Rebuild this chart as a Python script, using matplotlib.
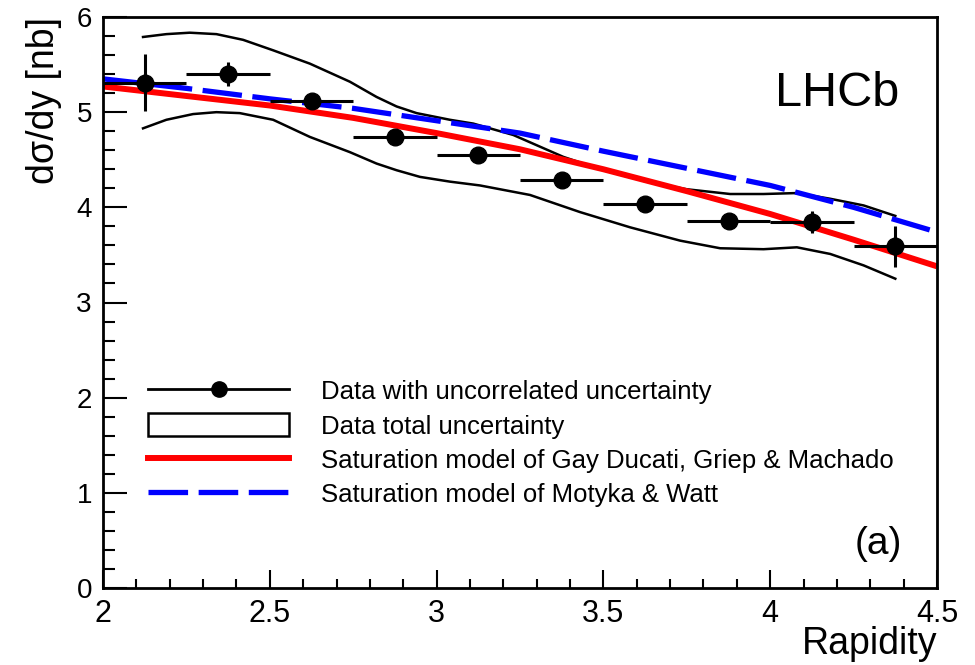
import matplotlib
matplotlib.use("Agg")
import matplotlib.pyplot as plt
from matplotlib.lines import Line2D
from matplotlib.patches import Patch
from matplotlib.ticker import MultipleLocator

plt.rcParams['font.family'] = ['Liberation Sans', 'DejaVu Sans']

# --- DATA ---
y_centers = [2.125, 2.375, 2.625, 2.875, 3.125, 3.375, 3.625, 3.875, 4.125, 4.375]
xsec = [5.31, 5.40, 5.12, 4.74, 4.55, 4.29, 4.03, 3.86, 3.85, 3.59]
xsec_err = [0.30, 0.13, 0.05, 0.05, 0.05, 0.05, 0.05, 0.05, 0.115, 0.215]
bin_half = 0.125

# total uncertainty band edges
band_up_x = [2.12, 2.19, 2.26, 2.34, 2.42, 2.51, 2.62, 2.74, 2.82, 2.88, 2.94, 3.04,
             3.11, 3.23, 3.38, 3.50, 3.63, 3.75, 3.88, 3.98, 4.08, 4.18, 4.28, 4.375]
band_up_y = [5.79, 5.82, 5.835, 5.82, 5.76, 5.65, 5.51, 5.32, 5.16, 5.06, 4.99, 4.92,
             4.88, 4.76, 4.53, 4.39, 4.27, 4.19, 4.14, 4.14, 4.15, 4.09, 4.02, 3.91]
band_lo_x = [2.12, 2.19, 2.27, 2.34, 2.41, 2.51, 2.62, 2.74, 2.82, 2.88, 2.95, 3.04,
             3.13, 3.28, 3.43, 3.58, 3.73, 3.85, 3.98, 4.08, 4.18, 4.28, 4.375]
band_lo_y = [4.83, 4.92, 4.98, 5.00, 4.99, 4.92, 4.74, 4.58, 4.46, 4.39, 4.32, 4.27,
             4.23, 4.13, 3.95, 3.79, 3.65, 3.57, 3.56, 3.58, 3.51, 3.39, 3.25]

# model curves
model_x = [2.0, 2.25, 2.5, 2.75, 3.0, 3.25, 3.5, 3.75, 4.0, 4.25, 4.5]
gdgm_y = [5.27, 5.17, 5.07, 4.94, 4.78, 4.61, 4.40, 4.17, 3.93, 3.66, 3.38]
mw_y = [5.35, 5.25, 5.14, 5.04, 4.91, 4.78, 4.59, 4.41, 4.23, 4.00, 3.74]

labels = ["Data with uncorrelated uncertainty",
          "Data total uncertainty",
          "Saturation model of Gay Ducati, Griep & Machado",
          "Saturation model of Motyka & Watt"]

fig = plt.figure(figsize=(9.75, 6.65), dpi=100)
ax = fig.add_axes([103 / 975, 77 / 665, 834 / 975, 571 / 665])

# band
ax.plot(band_up_x, band_up_y, color='black', lw=1.8)
ax.plot(band_lo_x, band_lo_y, color='black', lw=1.8)

# models
ax.plot(model_x, gdgm_y, color='#ff0000', lw=4.3, solid_capstyle='butt')
ax.plot(model_x, mw_y, color='#0000ff', lw=3.8, dashes=(7.5, 2.0), dash_capstyle='butt')

# data
ax.errorbar(y_centers, xsec, xerr=bin_half, yerr=xsec_err, fmt='o', color='black',
            ms=12, elinewidth=2.2, capsize=0, zorder=5)

ax.set_xlim(2, 4.5)
ax.set_ylim(0, 6)
ax.xaxis.set_major_locator(MultipleLocator(0.5))
ax.xaxis.set_minor_locator(MultipleLocator(0.1))
ax.yaxis.set_major_locator(MultipleLocator(1))
ax.yaxis.set_minor_locator(MultipleLocator(0.2))
ax.set_xticks([2, 2.5, 3, 3.5, 4, 4.5])
ax.set_xticklabels(['2', '2.5', '3', '3.5', '4', '4.5'])
ax.tick_params(axis='x', which='major', direction='in', length=13, width=1.5,
               labelsize=22, pad=8)
ax.tick_params(axis='x', which='minor', direction='in', length=6.5, width=1.5)
ax.tick_params(axis='y', which='major', direction='in', length=17, width=1.5,
               labelsize=20, pad=8)
ax.tick_params(axis='y', which='minor', direction='in', length=8.5, width=1.5)
for sp in ax.spines.values():
    sp.set_linewidth(2)

ax.set_xlabel('Rapidity', fontsize=27, loc='right', labelpad=-2)
ax.set_ylabel('dσ/dy [nb]', fontsize=27, loc='top', labelpad=10)

ax.text(0.955, 0.844, 'LHCb', transform=ax.transAxes, fontsize=35,
        ha='right', va='baseline')
ax.text(0.958, 0.06, '(a)', transform=ax.transAxes, fontsize=28,
        ha='right', va='baseline')

handles = [
    Line2D([], [], color='black', lw=2, marker='o', ms=11),
    Patch(facecolor='white', edgecolor='black', lw=1.8),
    Line2D([], [], color='#ff0000', lw=4.3),
    Line2D([], [], color='#0000ff', lw=3.8, dashes=(7.5, 2.0)),
]
ax.legend(handles, labels, loc='upper left', bbox_to_anchor=(0.054, 0.366),
          frameon=False, fontsize=18.5, handlelength=5.5, handleheight=1.0,
          handletextpad=1.25, labelspacing=0.35, borderpad=0, borderaxespad=0)

fig.savefig('out.png', dpi=100)
